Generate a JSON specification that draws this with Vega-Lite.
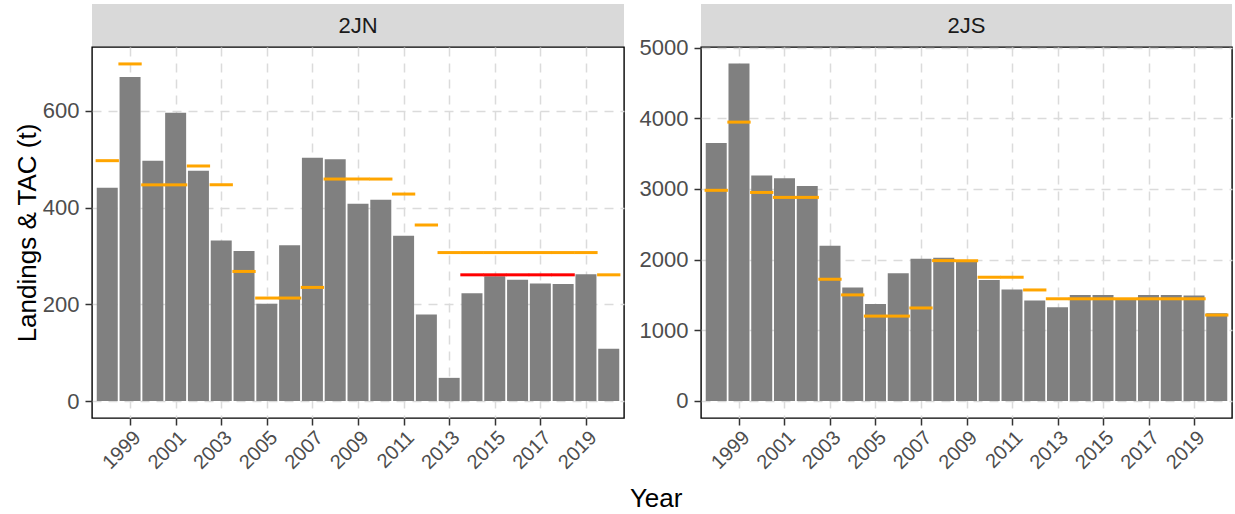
{
  "$schema": "https://vega.github.io/schema/vega-lite/v6.json",
  "padding": {"left": 13, "top": 4, "right": 2, "bottom": 0},
  "title": {"text": "Year", "orient": "bottom", "anchor": "middle", "fontSize": 26, "fontWeight": "normal", "color": "#000000", "offset": 13, "dx": 33},
  "config": {
    "font": "Liberation Sans",
    "view": {"stroke": "#000000", "strokeWidth": 1.4},
    "concat": {"spacing": 13},
    "axis": {
      "domain": false,
      "grid": true,
      "gridColor": "#dbdbdb",
      "gridDash": [9, 7],
      "gridWidth": 1.5,
      "tickColor": "#333333",
      "tickSize": 7,
      "tickWidth": 1.5,
      "labelColor": "#4d4d4d",
      "labelFontSize": 22,
      "labelPadding": 6,
      "labelOverlap": false,
      "titleColor": "#000000",
      "titleFontSize": 26,
      "titleFontWeight": "normal"
    }
  },
  "datasets": {
    "main": [
      {"region": "2JN", "year": 1998, "series": "Landings", "value": 441},
      {"region": "2JN", "year": 1999, "series": "Landings", "value": 670},
      {"region": "2JN", "year": 2000, "series": "Landings", "value": 497},
      {"region": "2JN", "year": 2001, "series": "Landings", "value": 596},
      {"region": "2JN", "year": 2002, "series": "Landings", "value": 476},
      {"region": "2JN", "year": 2003, "series": "Landings", "value": 332},
      {"region": "2JN", "year": 2004, "series": "Landings", "value": 310},
      {"region": "2JN", "year": 2005, "series": "Landings", "value": 201},
      {"region": "2JN", "year": 2006, "series": "Landings", "value": 322},
      {"region": "2JN", "year": 2007, "series": "Landings", "value": 503},
      {"region": "2JN", "year": 2008, "series": "Landings", "value": 500},
      {"region": "2JN", "year": 2009, "series": "Landings", "value": 408},
      {"region": "2JN", "year": 2010, "series": "Landings", "value": 416},
      {"region": "2JN", "year": 2011, "series": "Landings", "value": 342},
      {"region": "2JN", "year": 2012, "series": "Landings", "value": 179},
      {"region": "2JN", "year": 2013, "series": "Landings", "value": 48},
      {"region": "2JN", "year": 2014, "series": "Landings", "value": 223},
      {"region": "2JN", "year": 2015, "series": "Landings", "value": 258},
      {"region": "2JN", "year": 2016, "series": "Landings", "value": 251},
      {"region": "2JN", "year": 2017, "series": "Landings", "value": 243},
      {"region": "2JN", "year": 2018, "series": "Landings", "value": 242},
      {"region": "2JN", "year": 2019, "series": "Landings", "value": 262},
      {"region": "2JN", "year": 2020, "series": "Landings", "value": 108},
      {"region": "2JN", "year": 1998, "series": "TAC", "value": 497},
      {"region": "2JN", "year": 1999, "series": "TAC", "value": 697},
      {"region": "2JN", "year": 2000, "series": "TAC", "value": 447},
      {"region": "2JN", "year": 2001, "series": "TAC", "value": 447},
      {"region": "2JN", "year": 2002, "series": "TAC", "value": 486},
      {"region": "2JN", "year": 2003, "series": "TAC", "value": 447},
      {"region": "2JN", "year": 2004, "series": "TAC", "value": 268},
      {"region": "2JN", "year": 2005, "series": "TAC", "value": 213},
      {"region": "2JN", "year": 2006, "series": "TAC", "value": 213},
      {"region": "2JN", "year": 2007, "series": "TAC", "value": 235},
      {"region": "2JN", "year": 2008, "series": "TAC", "value": 459},
      {"region": "2JN", "year": 2009, "series": "TAC", "value": 459},
      {"region": "2JN", "year": 2010, "series": "TAC", "value": 459},
      {"region": "2JN", "year": 2011, "series": "TAC", "value": 428},
      {"region": "2JN", "year": 2012, "series": "TAC", "value": 364},
      {"region": "2JN", "year": 2013, "series": "TAC", "value": 307},
      {"region": "2JN", "year": 2014, "series": "TAC", "value": 307},
      {"region": "2JN", "year": 2015, "series": "TAC", "value": 307},
      {"region": "2JN", "year": 2016, "series": "TAC", "value": 307},
      {"region": "2JN", "year": 2017, "series": "TAC", "value": 307},
      {"region": "2JN", "year": 2018, "series": "TAC", "value": 307},
      {"region": "2JN", "year": 2019, "series": "TAC", "value": 307},
      {"region": "2JN", "year": 2020, "series": "TAC", "value": 261},
      {"region": "2JN", "year": 2014, "series": "TAC2", "value": 261},
      {"region": "2JN", "year": 2015, "series": "TAC2", "value": 261},
      {"region": "2JN", "year": 2016, "series": "TAC2", "value": 261},
      {"region": "2JN", "year": 2017, "series": "TAC2", "value": 261},
      {"region": "2JN", "year": 2018, "series": "TAC2", "value": 261},
      {"region": "2JS", "year": 1998, "series": "Landings", "value": 3650},
      {"region": "2JS", "year": 1999, "series": "Landings", "value": 4775},
      {"region": "2JS", "year": 2000, "series": "Landings", "value": 3190},
      {"region": "2JS", "year": 2001, "series": "Landings", "value": 3150},
      {"region": "2JS", "year": 2002, "series": "Landings", "value": 3040},
      {"region": "2JS", "year": 2003, "series": "Landings", "value": 2195},
      {"region": "2JS", "year": 2004, "series": "Landings", "value": 1605},
      {"region": "2JS", "year": 2005, "series": "Landings", "value": 1370},
      {"region": "2JS", "year": 2006, "series": "Landings", "value": 1805},
      {"region": "2JS", "year": 2007, "series": "Landings", "value": 2010},
      {"region": "2JS", "year": 2008, "series": "Landings", "value": 2025},
      {"region": "2JS", "year": 2009, "series": "Landings", "value": 1965},
      {"region": "2JS", "year": 2010, "series": "Landings", "value": 1710},
      {"region": "2JS", "year": 2011, "series": "Landings", "value": 1575},
      {"region": "2JS", "year": 2012, "series": "Landings", "value": 1420},
      {"region": "2JS", "year": 2013, "series": "Landings", "value": 1325},
      {"region": "2JS", "year": 2014, "series": "Landings", "value": 1500},
      {"region": "2JS", "year": 2015, "series": "Landings", "value": 1500},
      {"region": "2JS", "year": 2016, "series": "Landings", "value": 1440},
      {"region": "2JS", "year": 2017, "series": "Landings", "value": 1500},
      {"region": "2JS", "year": 2018, "series": "Landings", "value": 1500},
      {"region": "2JS", "year": 2019, "series": "Landings", "value": 1490},
      {"region": "2JS", "year": 2020, "series": "Landings", "value": 1240},
      {"region": "2JS", "year": 1998, "series": "TAC", "value": 2980},
      {"region": "2JS", "year": 1999, "series": "TAC", "value": 3945},
      {"region": "2JS", "year": 2000, "series": "TAC", "value": 2950},
      {"region": "2JS", "year": 2001, "series": "TAC", "value": 2880},
      {"region": "2JS", "year": 2002, "series": "TAC", "value": 2880},
      {"region": "2JS", "year": 2003, "series": "TAC", "value": 1720},
      {"region": "2JS", "year": 2004, "series": "TAC", "value": 1500},
      {"region": "2JS", "year": 2005, "series": "TAC", "value": 1200},
      {"region": "2JS", "year": 2006, "series": "TAC", "value": 1200},
      {"region": "2JS", "year": 2007, "series": "TAC", "value": 1315},
      {"region": "2JS", "year": 2008, "series": "TAC", "value": 1985},
      {"region": "2JS", "year": 2009, "series": "TAC", "value": 1985},
      {"region": "2JS", "year": 2010, "series": "TAC", "value": 1750},
      {"region": "2JS", "year": 2011, "series": "TAC", "value": 1750},
      {"region": "2JS", "year": 2012, "series": "TAC", "value": 1570},
      {"region": "2JS", "year": 2013, "series": "TAC", "value": 1445},
      {"region": "2JS", "year": 2014, "series": "TAC", "value": 1445},
      {"region": "2JS", "year": 2015, "series": "TAC", "value": 1445},
      {"region": "2JS", "year": 2016, "series": "TAC", "value": 1445},
      {"region": "2JS", "year": 2017, "series": "TAC", "value": 1445},
      {"region": "2JS", "year": 2018, "series": "TAC", "value": 1445},
      {"region": "2JS", "year": 2019, "series": "TAC", "value": 1445},
      {"region": "2JS", "year": 2020, "series": "TAC", "value": 1215}
    ]
  },
  "hconcat": [
    {
      "spacing": 0,
      "bounds": "flush",
      "vconcat": [
        {
          "width": 532, "height": 43,
          "view": {"fill": "#d9d9d9", "stroke": null},
          "data": {"values": [{"panel": "2JN"}]},
          "mark": {"type": "text", "fontSize": 22, "color": "#1a1a1a"},
          "encoding": {"text": {"field": "panel"}}
        },
        {
          "width": 532, "height": 371,
          "data": {"name": "main"},
          "transform": [{"filter": "datum.region == '2JN'"}],
          "encoding": {
            "x": {"field": "year", "type": "quantitative",
                  "scale": {"domain": [1997.55, 2020.45], "nice": false, "zero": false},
                  "axis": {"values": [1999, 2001, 2003, 2005, 2007, 2009, 2011, 2013, 2015, 2017, 2019], "format": "d", "labelAngle": -45, "labelAlign": "right", "labelBaseline": "top", "labelFontSize": 20, "labelPadding": 2, "title": null}},
            "y": {"field": "value", "type": "quantitative",
                  "scale": {"domain": [-35, 732], "nice": false, "zero": false},
                  "axis": {"values": [0, 200, 400, 600], "format": "d", "title": "Landings & TAC (t)", "titlePadding": 2}}
          },
          "layer": [
            {"transform": [{"filter": "datum.series == 'Landings'"}],
             "mark": {"type": "bar", "size": 21, "color": "#808080", "clip": true}},
            {"transform": [{"filter": "datum.series == 'TAC'"}],
             "mark": {"type": "tick", "orient": "horizontal", "size": 23.3, "thickness": 3, "color": "#FFA500", "opacity": 1, "clip": true}},
            {"transform": [{"filter": "datum.series == 'TAC2'"}],
             "mark": {"type": "tick", "orient": "horizontal", "size": 23.3, "thickness": 3, "color": "#FF0000", "opacity": 1, "clip": true}}
          ]
        }
      ]
    },
    {
      "spacing": 0,
      "bounds": "flush",
      "vconcat": [
        {
          "width": 531, "height": 43,
          "view": {"fill": "#d9d9d9", "stroke": null},
          "data": {"values": [{"panel": "2JS"}]},
          "mark": {"type": "text", "fontSize": 22, "color": "#1a1a1a"},
          "encoding": {"text": {"field": "panel"}}
        },
        {
          "width": 531, "height": 371,
          "data": {"name": "main"},
          "transform": [{"filter": "datum.region == '2JS'"}],
          "encoding": {
            "x": {"field": "year", "type": "quantitative",
                  "scale": {"domain": [1997.55, 2020.45], "nice": false, "zero": false},
                  "axis": {"values": [1999, 2001, 2003, 2005, 2007, 2009, 2011, 2013, 2015, 2017, 2019], "format": "d", "labelAngle": -45, "labelAlign": "right", "labelBaseline": "top", "labelFontSize": 20, "labelPadding": 2, "title": null}},
            "y": {"field": "value", "type": "quantitative",
                  "scale": {"domain": [-242, 5008], "nice": false, "zero": false},
                  "axis": {"values": [0, 1000, 2000, 3000, 4000, 5000], "format": "d", "title": null}}
          },
          "layer": [
            {"transform": [{"filter": "datum.series == 'Landings'"}],
             "mark": {"type": "bar", "size": 21, "color": "#808080", "clip": true}},
            {"transform": [{"filter": "datum.series == 'TAC'"}],
             "mark": {"type": "tick", "orient": "horizontal", "size": 23.3, "thickness": 3, "color": "#FFA500", "opacity": 1, "clip": true}}
          ]
        }
      ]
    }
  ]
}
